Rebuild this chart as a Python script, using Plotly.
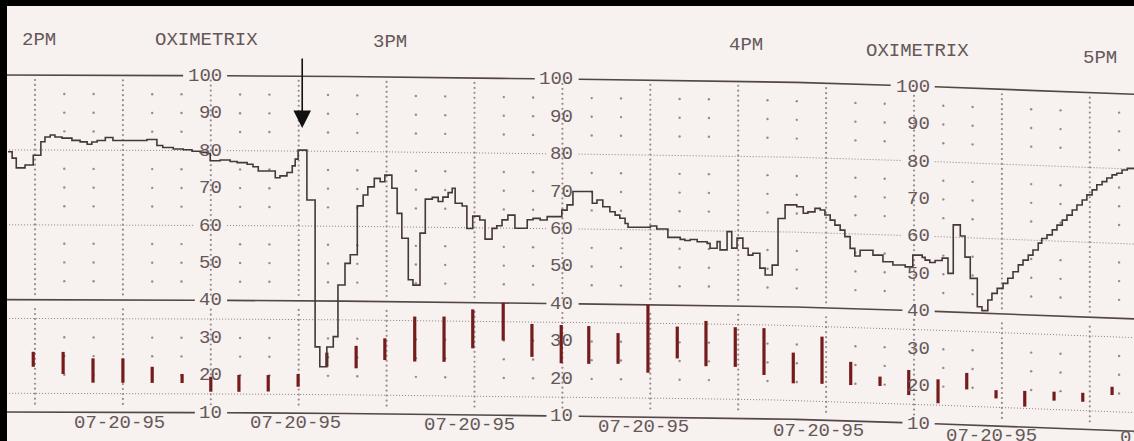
import numpy as np
import plotly.graph_objects as go

# ---------------- data ----------------
# SpO2 trace: step start time (minutes after 2 PM) and saturation (%)
spo2_t = [-4.6, -3.9, -3.2, -1.7, -0.3, 1.0, 1.7, 2.6, 3.4, 4.6, 6.3, 7.7, 8.9, 9.7, 10.6,
          12.0, 13.3, 19.1, 20.8, 21.8, 23.6, 25.3, 26.8, 28.2, 29.4, 29.9, 31.6, 33.3, 34.5,
          36.2, 37.2, 38.1, 41.0, 41.8, 43.0, 43.9, 44.4, 44.9, 46.4, 47.8, 48.6, 49.8, 50.9,
          51.7, 52.9, 53.8, 55.0, 56.0, 56.8, 57.9, 58.9, 59.7, 60.9, 61.8, 62.6, 63.7, 64.5,
          65.7, 66.6, 67.8, 68.8, 69.6, 70.5, 71.2, 71.7, 72.9, 73.7, 74.7, 75.9, 76.8, 78.0,
          78.8, 79.7, 80.7, 81.9, 84.0, 85.0, 86.2, 87.4, 89.9, 90.8, 91.8, 95.1, 95.9, 96.9,
          98.1, 99.0, 99.8, 100.7, 101.2, 105.0, 106.1, 108.0, 110.1, 110.9, 111.8, 113.0,
          114.7, 115.2, 116.4, 116.9, 118.1, 118.9, 119.8, 120.8, 121.7, 122.5, 123.7, 124.6,
          125.8, 126.8, 128.0, 130.0, 131.1, 131.9, 133.1, 134.0, 134.8, 135.7, 136.5, 137.4,
          138.2, 139.1, 139.9, 140.8, 143.0, 144.7, 146.4, 148.5, 149.8, 151.4, 151.9, 152.7,
          153.6, 154.8, 155.8, 156.7, 157.9, 158.7, 159.6, 160.8, 161.6, 162.6, 163.3, 164.2,
          165.2, 166.0, 166.9, 167.8, 168.6, 169.5, 170.3, 171.2, 171.8, 172.7, 173.6, 174.4,
          175.3, 176.1, 177.0, 177.8, 178.7, 179.5, 180.4, 181.2, 182.1, 182.9, 183.8, 184.6,
          185.5, 186.4, 187.6]
spo2_v = [79.5, 77.8, 75.2, 76.0, 78.6, 82.2, 83.5, 84.0, 83.5, 83.2, 82.6, 82.2, 81.6, 82.2, 82.6,
          83.4, 82.6, 82.9, 81.3, 80.8, 80.4, 80.2, 79.8, 79.5, 79.2, 77.3, 77.5, 77.1, 76.8,
          76.4, 75.7, 74.6, 72.8, 73.3, 74.2, 76.0, 77.8, 80.2, 66.9, 27.7, 22.4, 27.7, 30.5,
          44.3, 50.1, 52.4, 65.5, 68.4, 70.6, 72.9, 72.0, 73.8, 70.3, 63.6, 57.0, 45.9, 44.5,
          58.4, 67.5, 68.0, 66.9, 68.1, 69.3, 70.5, 66.5, 65.8, 59.8, 63.1, 62.1, 57.0, 59.9,
          60.6, 62.2, 63.5, 60.0, 62.3, 62.7, 62.3, 63.2, 65.0, 66.4, 70.0, 66.9, 67.8, 66.0,
          64.7, 63.8, 63.0, 61.6, 60.6, 61.0, 60.2, 58.0, 57.5, 57.2, 57.5, 56.9,
          56.5, 55.2, 57.0, 54.8, 59.7, 55.3, 58.0, 55.3, 53.5, 54.0, 50.1, 48.3,
          51.0, 63.5, 67.2, 66.8, 65.1, 65.5, 66.5, 66.1, 64.8, 63.5, 62.2, 60.9,
          59.2, 56.1, 54.1, 55.7, 54.5, 52.8, 52.0, 51.6, 54.8, 54.3, 53.6, 53.0,
          53.6, 54.3, 50.3, 63.3, 60.4, 54.8, 49.2, 41.7, 40.7, 43.6, 45.4, 46.8,
          48.2, 49.6, 51.4, 53.3, 54.6, 56.0, 57.4, 59.3, 60.6, 61.6, 63.0, 64.3,
          65.7, 67.1, 68.5, 69.9, 71.3, 72.7, 74.1, 75.5, 76.4, 77.4, 78.3, 78.8,
          79.7, 80.2, 80.2]

# pulse bars in the lower band: time (min after 2 PM), low and high reading
bar_t = [-0.3, 4.8, 9.9, 15.0, 20.0, 25.1, 30.0, 34.8, 39.8, 44.9, 49.8, 54.8, 59.7, 64.8,
         69.8, 74.7, 79.9, 84.8, 89.8, 94.5, 99.5, 104.6, 109.6, 114.5, 119.5, 124.4, 129.4,
         134.3, 139.2, 144.2, 149.1, 154.1, 159.0, 164.0, 168.9, 173.9, 178.8, 183.8]
bar_lo = [22.1, 20.2, 17.9, 17.9, 17.9, 17.9, 15.6, 15.6, 15.7, 17.0, 22.4, 22.1, 24.4, 24.1,
          24.1, 27.8, 30.0, 25.7, 24.1, 24.0, 24.1, 21.8, 25.7, 23.7, 23.6, 21.6, 19.6,
          19.7, 19.6, 19.6, 17.4, 15.5, 19.5, 17.4, 15.5, 17.4, 17.4, 19.5]
bar_hi = [26.1, 26.1, 24.4, 24.4, 22.2, 20.3, 19.6, 20.1, 20.1, 20.4, 26.2, 28.1, 30.2, 36.1,
          36.2, 38.2, 40.1, 34.5, 34.3, 34.1, 32.3, 39.9, 34.2, 35.8, 34.2, 34.1, 27.8,
          32.3, 25.8, 22.1, 24.1, 21.9, 23.9, 19.6, 19.7, 19.8, 19.8, 21.7]

hour_labels = ["2PM", "3PM", "4PM", "5PM"]
hour_t = [0.6, 60.6, 121.3, 181.7]
brand_label = "OXIMETRIX"
brand_t = [29.3, 150.6]
scale_values = [100, 90, 80, 70, 60, 50, 40, 30, 20, 10]
scale_col_t = [32.2, 92.2, 153.0]          # printed scale columns (right edge)
date_label = "07-20-95"
date_t = [14.5, 44.4, 74.2, 103.9, 133.8, 163.3, 193.0]

solid_levels = [100, 40, 10]
dotted_levels = [80, 60, 35, 15]
minor_dot_levels = [95, 90, 85, 75, 70, 65, 55, 50, 45, 30, 25, 20]

# ---------------- geometry / style ----------------
W, H = 1134, 441
PX_PER_MIN = 5.86
X0_PX = 35.0
PX_PER_PCT = 3.744
Y100_PX = 75.0
T_MIN = -X0_PX / PX_PER_MIN
T_MAX = (W - X0_PX) / PX_PER_MIN
Y_MAX = 100 + Y100_PX / PX_PER_PCT
Y_MIN = 100 - (H - Y100_PX) / PX_PER_PCT

# the scanned paper sags slightly towards the right
SAG_X = [0, 300, 557, 750, 915, 1134]
SAG_PX = [0, 1, 4, 6, 11, 19.5]


def sag(t):
    px = X0_PX + np.asarray(t, dtype=float) * PX_PER_MIN
    return np.interp(px, SAG_X, SAG_PX) / PX_PER_PCT


PAPER = "#f7f1ef"
INK = "#463838"
GRID_SOLID = "#544646"
GRID_DOT = "#8c8080"
DOT = "#978b8b"
BAR = "#741c1c"
TEXT = "#655858"
FONT = "Liberation Mono"
FS = 19
CHAR_PX = 0.6 * FS

fig = go.Figure()


def gaps_for(level):
    if level not in scale_values:
        return []
    w = len(str(level)) * CHAR_PX
    return [(tr - (w + 6) / PX_PER_MIN, tr + 3 / PX_PER_MIN) for tr in scale_col_t]


tt = np.arange(T_MIN - 1, T_MAX + 1, 0.25)
for lev in solid_levels + dotted_levels:
    y = (lev - sag(tt)).astype(object)
    for a, b in gaps_for(lev):
        y[(tt > a) & (tt < b)] = None
    solid = lev in solid_levels
    fig.add_trace(go.Scatter(
        x=tt, y=list(y), mode="lines", hoverinfo="skip", showlegend=False,
        line=dict(color=GRID_SOLID if solid else GRID_DOT,
                  width=1.6 if solid else 1.0,
                  dash=None if solid else "1px,2px")))

# major dotted columns (every 15 min)
mx, my = [], []
for tc in np.arange(0, 181, 15):
    for v in np.arange(98.7, 10.5, -1.33):
        if any(abs(v - L) < 1.2 for L in solid_levels):
            continue
        mx.append(tc)
        my.append(v - float(sag(tc)))
fig.add_trace(go.Scatter(x=mx, y=my, mode="markers", hoverinfo="skip", showlegend=False,
                         marker=dict(size=2.2, color=DOT, line=dict(width=0))))

# minor dots (every 5 min)
nx, ny = [], []
for tc in np.arange(5, 186, 5):
    if tc % 15 == 0:
        continue
    for v in minor_dot_levels:
        nx.append(tc)
        ny.append(v - float(sag(tc)))
fig.add_trace(go.Scatter(x=nx, y=ny, mode="markers", hoverinfo="skip", showlegend=False,
                         marker=dict(size=2.4, color=DOT, line=dict(width=0))))

# pulse bars
bx, by = [], []
for t, lo, hi in zip(bar_t, bar_lo, bar_hi):
    s = float(sag(t))
    bx += [t, t, None]
    by += [lo - s, hi - s, None]
fig.add_trace(go.Scatter(x=bx, y=by, mode="lines", hoverinfo="skip", showlegend=False,
                         line=dict(color=BAR, width=3.2)))

# SpO2 trace
st = np.array(spo2_t)
sv = np.array(spo2_v) - sag(st)
fig.add_trace(go.Scatter(x=st, y=sv, mode="lines", line_shape="hv", showlegend=False,
                         line=dict(color=INK, width=1.6)))

# ---------------- text ----------------
ann = []


def txt(t, v, s, xanchor="center", at=None):
    at = t if at is None else at
    y = max(v - float(sag(at)), Y_MIN + 0.8)
    ann.append(dict(x=t, y=y, text=s, showarrow=False, xanchor=xanchor,
                    yanchor="middle", font=dict(family=FONT, size=FS, color=TEXT)))


TOP_V = 100 + (Y100_PX - 39.5) / PX_PER_PCT
for s, t in zip(hour_labels, hour_t):
    txt(t, TOP_V, s)
for t in brand_t:
    txt(t, TOP_V, brand_label)
for tr in scale_col_t:
    for v in scale_values:
        txt(tr, v, str(v), xanchor="right")
DATE_V = 10 - 10.5 / PX_PER_PCT
half_w = (len(date_label) * CHAR_PX / 2 + 2) / PX_PER_MIN
for t in date_t:
    txt(t - half_w, DATE_V, date_label, xanchor="left", at=min(t, T_MAX))

# arrow marking the desaturation onset
arrow_t = 45.6
ann.append(dict(x=arrow_t, y=86.1 - float(sag(arrow_t)), text="", showarrow=True,
                ax=0, ay=-71, arrowhead=2, arrowsize=2.2, arrowwidth=1.6,
                arrowcolor="#111111", standoff=0))

fig.update_layout(
    width=W, height=H, margin=dict(l=0, r=0, t=0, b=0),
    paper_bgcolor=PAPER, plot_bgcolor=PAPER,
    xaxis=dict(range=[T_MIN, T_MAX], visible=False, fixedrange=True),
    yaxis=dict(range=[Y_MIN, Y_MAX], visible=False, fixedrange=True),
    annotations=ann,
    shapes=[
        dict(type="rect", xref="paper", yref="paper", x0=0, x1=7 / W, y0=0, y1=1,
             fillcolor="#000000", line=dict(width=0)),
        dict(type="rect", xref="paper", yref="paper", x0=0, x1=1, y0=1 - 6 / H, y1=1,
             fillcolor="#000000", line=dict(width=0)),
    ],
)

fig.write_html("out.html")
